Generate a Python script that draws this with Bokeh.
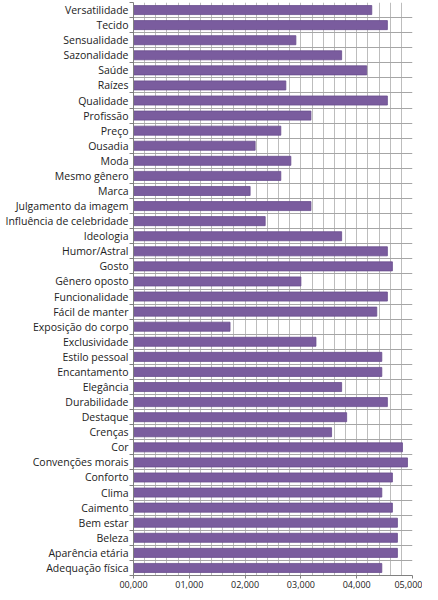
from bokeh.plotting import figure
from bokeh.models import Range1d, FixedTicker
from bokeh.embed import file_html
from bokeh.resources import INLINE

# Categorias, de cima para baixo
categorias = [
    "Versatilidade", "Tecido", "Sensualidade", "Sazonalidade", "Saúde",
    "Raízes", "Qualidade", "Profissão", "Preço", "Ousadia", "Moda",
    "Mesmo gênero", "Marca", "Julgamento da imagem",
    "Influência de celebridade", "Ideologia", "Humor/Astral", "Gosto",
    "Gênero oposto", "Funcionalidade", "Fácil de manter",
    "Exposição do corpo", "Exclusividade", "Estilo pessoal", "Encantamento",
    "Elegância", "Durabilidade", "Destaque", "Crenças", "Cor",
    "Convenções morais", "Conforto", "Clima", "Caimento", "Bem estar",
    "Beleza", "Aparência etária", "Adequação física",
]

# Médias
medias = [
    4.27, 4.55, 2.91, 3.73, 4.18,
    2.73, 4.55, 3.18, 2.64, 2.18, 2.82,
    2.64, 2.09, 3.18,
    2.36, 3.73, 4.55, 4.64,
    3.00, 4.55, 4.36,
    1.73, 3.27, 4.45, 4.45,
    3.73, 4.55, 3.82, 3.55, 4.82,
    4.91, 4.64, 4.45, 4.64, 4.73,
    4.73, 4.73, 4.45,
]

rotulos_x = ["00,000", "01,000", "02,000", "03,000", "04,000", "05,000"]

n = len(categorias)
pos = list(range(n))

p = figure(width=422, height=590, output_backend="svg", toolbar_location=None,
           x_range=Range1d(0, 5), y_range=Range1d(n - 0.5, -0.5),
           min_border_left=133, min_border_right=10, min_border_top=2,
           min_border_bottom=15)
p.outline_line_color = None
p.background_fill_color = "white"

p.hbar(y=pos, right=medias, left=0, height=0.6,
       fill_color="#7A5C9E", line_color="#6A4E8E", line_width=0.8)

# eixo Y: rótulos das categorias
p.yaxis.ticker = FixedTicker(ticks=pos, minor_ticks=[i + 0.5 for i in range(-1, n)])
p.yaxis.major_label_overrides = {i: c for i, c in enumerate(categorias)}
p.yaxis.major_tick_line_color = None
p.yaxis.major_tick_out = 0
p.yaxis.major_tick_in = 0
p.yaxis.minor_tick_out = 4
p.yaxis.minor_tick_in = 0
p.yaxis.minor_tick_line_color = "#808080"
p.yaxis.axis_line_color = "#808080"
p.yaxis.major_label_standoff = 1
p.yaxis.major_label_text_font = "Open Sans"
p.yaxis.major_label_text_font_size = "10.5px"
p.yaxis.major_label_text_color = "#222222"

# eixo X
p.xaxis.ticker = FixedTicker(ticks=list(range(6)))
p.xaxis.major_label_overrides = {i: r for i, r in enumerate(rotulos_x)}
p.xaxis.major_tick_out = 3
p.xaxis.major_tick_in = 0
p.xaxis.major_tick_line_color = "#808080"
p.xaxis.minor_tick_line_color = None
p.xaxis.axis_line_color = "#808080"
p.xaxis.major_label_standoff = 2
p.xaxis.major_label_text_font = "Open Sans"
p.xaxis.major_label_text_font_size = "9px"
p.xaxis.major_label_text_color = "#222222"

# grade
p.xgrid.ticker = FixedTicker(ticks=[i * 0.2 for i in range(1, 26)])
p.xgrid.grid_line_color = "#BDBDBD"
p.ygrid.ticker = FixedTicker(ticks=[i + 0.5 for i in range(n - 1)])
p.ygrid.grid_line_color = "#A6A6A6"

open("out.html", "w").write(file_html(p, INLINE))
